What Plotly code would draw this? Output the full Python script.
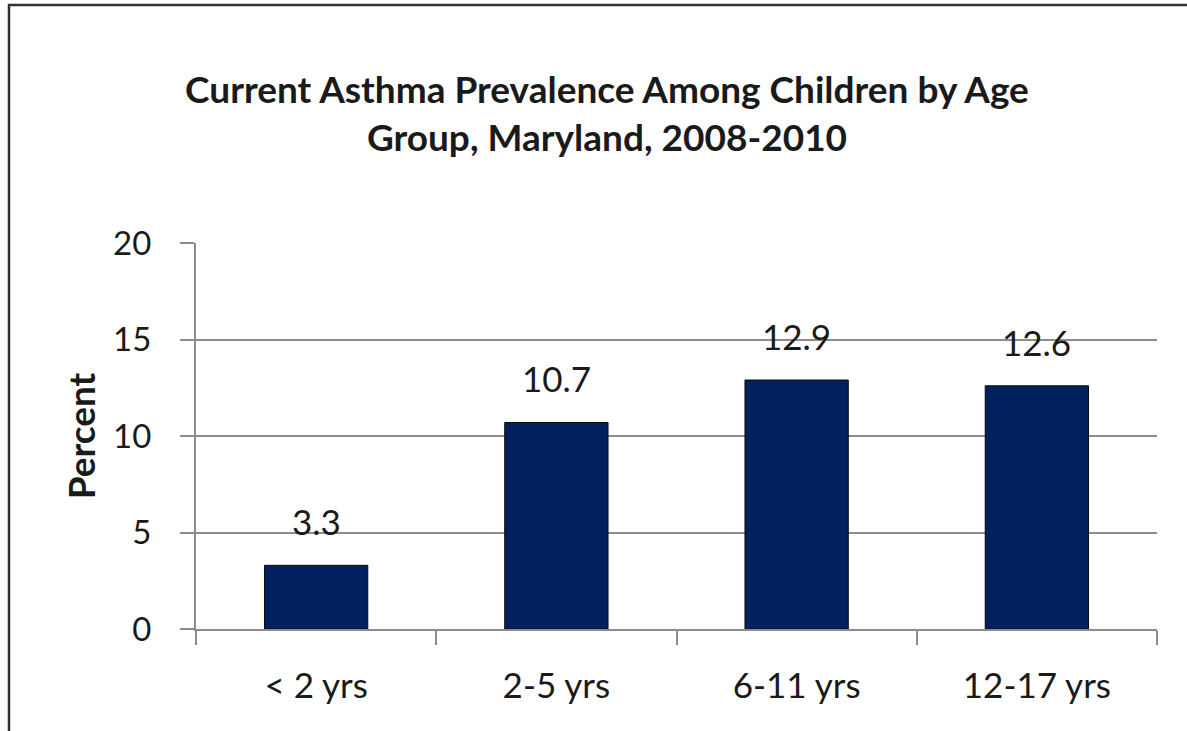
import plotly.graph_objects as go

categories = ["< 2 yrs", "2-5 yrs", "6-11 yrs", "12-17 yrs"]
values = [3.3, 10.7, 12.9, 12.6]
y_ticks = [0, 5, 10, 15, 20]

W, H = 1187, 731
L, R, T, B = 196, 30, 243, 102
pw = W - L - R
ph = H - T - B

font_family = "Lato, 'Open Sans', sans-serif"
txt = "#1a1a1a"

fig = go.Figure()
fig.add_trace(go.Bar(
    x=categories, y=values,
    marker=dict(color="#00205F", line=dict(color="#0a0a0a", width=1)),
    width=0.43,
    hoverinfo="skip",
))

for c, v in zip(categories, values):
    fig.add_annotation(x=c, y=v, text=f"{v:.1f}", showarrow=False,
                       yanchor="bottom", yshift=21,
                       font=dict(family=font_family, size=35, color=txt))

# outer frame
fig.add_shape(type="rect", xref="paper", yref="paper",
              x0=(9 - L) / pw, x1=(W + 20 - L) / pw,
              y0=(H - B - (H + 20)) / ph, y1=(H - B - 5) / ph,
              line=dict(color="#333333", width=2.5), fillcolor="rgba(0,0,0,0)",
              layer="below")

fig.update_layout(
    width=W, height=H,
    margin=dict(l=L, r=R, t=T, b=B),
    paper_bgcolor="white", plot_bgcolor="white",
    showlegend=False,
    title=dict(text="<b>Current Asthma Prevalence Among Children by Age<br>Group, Maryland, 2008-2010</b>",
               x=607 / W, xanchor="center", xref="container",
               y=1 - 103 / H, yanchor="middle", yref="container",
               font=dict(family=font_family, size=37, color=txt)),
    xaxis=dict(type="category", showline=True, linecolor="#8c8c8c", linewidth=2,
               ticks="outside", tickson="boundaries", ticklen=14, tickwidth=2,
               tickcolor="#8c8c8c", ticklabelstandoff=25,
               tickfont=dict(family=font_family, size=35, color=txt),
               showgrid=False),
    yaxis=dict(range=[0, 20], tickvals=y_ticks, showline=True, linecolor="#8c8c8c",
               linewidth=2, ticks="outside", ticklen=14, tickwidth=2, tickcolor="#8c8c8c",
               showgrid=True, gridcolor="#8c8c8c", gridwidth=2, zeroline=False,
               ticklabelstandoff=22,
               tickfont=dict(family=font_family, size=33, color=txt),
               title=dict(text="<b>Percent</b>", standoff=6,
                          font=dict(family=font_family, size=37, color=txt))),
)

fig.write_html("out.html", config={"displayModeBar": False},
               post_script="document.body.style.margin='0';document.body.style.padding='0';document.body.style.overflow='hidden';")
